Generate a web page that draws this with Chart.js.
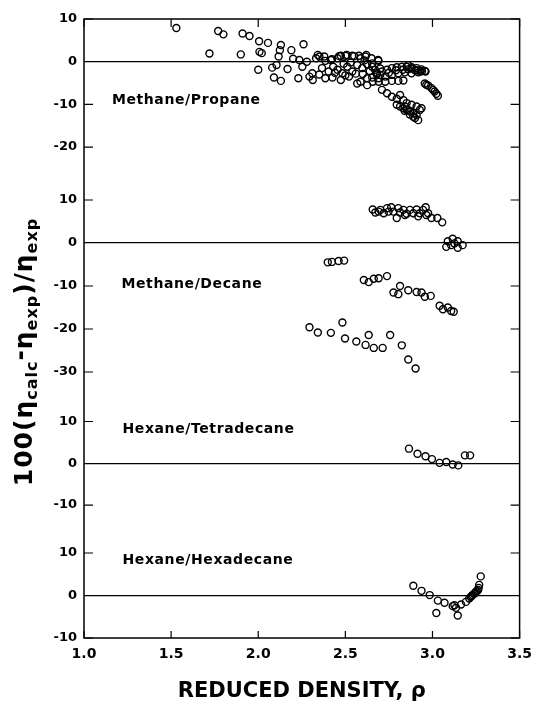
<!DOCTYPE html>
<html>
<head>
<meta charset="utf-8">
<script src="https://cdn.jsdelivr.net/npm/chart.js@4.4.1/dist/chart.umd.min.js"></script>
<style>
  body { margin: 0; background: #fff; }
  #wrap { width: 540px; height: 704px; }
</style>
</head>
<body>
<div id="wrap"><canvas id="chart" width="540" height="704"></canvas></div>
<script>
// reduced density ticks, shared by all four panels
const xTicks = [1.0, 1.5, 2.0, 2.5, 3.0, 3.5];

// y tick labels per panel
const propaneTicks = [10, 0, -10, -20];
const decaneTicks = [10, 0, -10, -20, -30];
const tetradecaneTicks = [10, 0, -10];
const hexadecaneTicks = [10, 0, -10];

const panelNames = ['Methane/Propane', 'Methane/Decane', 'Hexane/Tetradecane', 'Hexane/Hexadecane'];

// [reduced density, 100(calc - exp)/exp]
const propanePts = [
  [1.53, 7.9], [1.72, 1.9], [1.77, 7.2], [1.80, 6.4], [1.90, 1.7], [1.91, 6.6], [1.95, 6.0],
  [2.005, 4.8], [2.056, 4.4], [2.007, 2.3], [2.02, 2.0], [2.0, -1.9], [2.08, -1.4], [2.09, -3.7], [2.13, -4.5],
  [2.105, -0.8], [2.117, 1.2], [2.124, 2.7], [2.13, 3.9], [2.168, -1.7], [2.19, 2.7], [2.2, 0.7], [2.236, 0.4],
  [2.26, 4.1], [2.23, -3.9], [2.253, -1.2], [2.279, 0.0], [2.294, -3.5], [2.313, -4.3], [2.31, -2.7],
  [2.332, 0.8], [2.351, 1.2], [2.342, 1.6], [2.366, -1.5], [2.379, 1.2], [2.385, 0.2], [2.404, -2.3], [2.385, -3.9],
  [2.417, 0.4], [2.423, 0.6], [2.43, -1.2], [2.35, -3.0], [2.44, -2.6],
  [2.455, 0.8], [2.464, 1.3], [2.474, 1.4], [2.502, 1.4], [2.508, 1.6], [2.54, 1.4], [2.551, 1.3], [2.578, 1.4],
  [2.587, 0.8], [2.616, 1.2], [2.62, 1.6], [2.65, 0.8], [2.654, -0.4], [2.688, 0.4], [2.69, 0.2],
  [2.455, -1.9], [2.483, -2.7], [2.49, -0.5], [2.511, -1.2], [2.53, -0.2], [2.54, -2.3], [2.568, -0.8], [2.597, -1.5],
  [2.61, 0.3], [2.625, -0.6], [2.654, -1.2], [2.67, -1.9], [2.70, -1.6],
  [2.426, -3.7], [2.474, -4.3], [2.50, -3.2], [2.521, -3.5], [2.56, -2.8], [2.568, -5.1], [2.587, -4.7], [2.60, -2.9],
  [2.625, -3.9], [2.64, -2.2], [2.654, -3.7], [2.68, -3.0],
  [2.682, -2.7], [2.71, -2.3], [2.739, -1.9], [2.767, -1.5], [2.795, -1.3], [2.824, -1.2], [2.852, -1.2], [2.88, -1.3],
  [2.909, -1.5], [2.937, -1.8], [2.956, -2.2],
  [2.691, -3.9], [2.729, -3.5], [2.767, -3.1], [2.804, -2.7], [2.842, -2.5], [2.88, -2.7], [2.918, -2.5],
  [2.70, -3.1], [2.75, -2.6], [2.79, -2.0], [2.83, -1.9], [2.86, -1.8], [2.90, -2.0], [2.93, -2.3],
  [2.86, -0.8], [2.88, -1.6], [2.91, -2.0], [2.94, -2.2], [2.96, -2.3],
  [2.625, -5.5], [2.657, -4.7], [2.691, -4.7], [2.729, -4.7], [2.767, -4.5], [2.804, -4.5], [2.833, -4.4],
  [2.71, -6.6], [2.739, -7.4], [2.767, -8.2], [2.795, -8.7], [2.814, -7.8], [2.833, -9.0], [2.852, -9.7], [2.842, -10.5],
  [2.795, -10.1], [2.814, -10.5], [2.833, -10.9], [2.852, -11.3], [2.871, -11.7], [2.89, -12.1], [2.909, -12.5],
  [2.918, -13.7], [2.89, -12.9], [2.861, -11.3], [2.88, -10.1], [2.909, -10.5], [2.927, -11.3], [2.937, -10.9],
  [2.90, -13.2], [2.87, -12.4], [2.84, -11.5],
  [2.956, -5.1], [2.965, -5.4], [2.975, -5.6], [2.994, -6.2], [3.003, -6.6], [3.012, -7.0], [3.022, -7.5], [3.031, -8.0]
];

const decanePts = [
  [2.657, 7.8], [2.672, 7.1], [2.691, 7.3], [2.701, 7.7], [2.72, 6.9], [2.739, 8.1], [2.748, 7.3], [2.763, 8.3],
  [2.776, 7.3], [2.795, 5.8], [2.804, 8.1], [2.814, 7.1], [2.833, 7.7], [2.842, 6.5], [2.852, 6.8], [2.871, 7.7],
  [2.89, 6.9], [2.909, 7.8], [2.918, 6.2], [2.927, 6.9], [2.946, 7.7], [2.961, 8.3], [2.965, 6.5], [2.975, 6.9],
  [2.994, 5.8], [3.028, 5.8], [3.056, 4.8],
  [3.079, -0.9], [3.088, 0.4], [3.107, -0.5], [3.116, 1.0], [3.126, -0.1], [3.145, 0.4], [3.145, -1.1], [3.173, -0.5],
  [2.399, -4.5], [2.423, -4.4], [2.461, -4.2], [2.493, -4.1],
  [2.606, -8.6], [2.634, -9.1], [2.663, -8.3], [2.691, -8.2], [2.739, -7.7], [2.776, -11.5], [2.804, -11.9],
  [2.814, -10.0], [2.861, -11.0], [2.909, -11.4], [2.937, -11.5], [2.956, -12.5], [2.99, -12.3],
  [3.041, -14.6], [3.06, -15.4], [3.088, -15.0], [3.107, -15.8], [3.122, -16.0],
  [2.294, -19.6], [2.342, -20.8], [2.417, -20.9], [2.483, -18.5], [2.498, -22.2], [2.563, -22.9], [2.616, -23.7],
  [2.634, -21.4], [2.663, -24.4], [2.714, -24.4], [2.757, -21.4], [2.824, -23.8], [2.861, -27.1], [2.903, -29.2]
];

const tetradecanePts = [
  [2.865, 3.5], [2.914, 2.3], [2.96, 1.7], [2.997, 1.0], [3.041, 0.1], [3.079, 0.3], [3.116, -0.3], [3.148, -0.5],
  [3.186, 1.9], [3.216, 1.9]
];

const hexadecanePts = [
  [2.89, 2.3], [2.937, 1.1], [2.984, 0.1], [3.022, -4.1], [3.031, -1.2], [3.069, -1.7], [3.116, -2.5], [3.126, -2.3],
  [3.135, -2.9], [3.145, -4.7], [3.164, -2.1], [3.192, -1.5], [3.211, -0.7], [3.22, -0.3], [3.225, -0.1], [3.23, 0.1],
  [3.239, 0.4], [3.245, 0.6], [3.249, 0.9], [3.255, 1.0], [3.262, 1.3], [3.265, 1.8], [3.268, 2.5], [3.277, 4.5]
];

const panelIds = ['yProp', 'yDec', 'yTet', 'yHex'];
// where each panel name sits, in (density, deviation) of its own panel
const nameAt = [[1.16, -9.0], [1.215, -9.7], [1.221, 8.0], [1.221, 8.3]];

const font = (size) => ({ family: 'DejaVu Sans', weight: 'bold', size });

function panelAxis(ticks, min, max, height, order) {
  return {
    type: 'linear',
    position: 'left',
    stack: 'panels',
    stackWeight: height,
    weight: order,
    min,
    max,
    afterBuildTicks: s => { s.ticks = ticks.map(v => ({ value: v })); },
    afterFit: s => { s.width = 84; },
    border: { display: false },
    grid: {
      drawTicks: false,
      lineWidth: 1.2,
      color: c => (c.tick && c.tick.value === 0 ? '#000' : 'rgba(0,0,0,0)')
    },
    ticks: { autoSkip: false, padding: 7, color: '#000', font: font(13), callback: v => String(v) }
  };
}

const toPts = arr => arr.map(([x, y]) => ({ x, y }));

const dot = {
  pointRadius: 3.5,
  pointHoverRadius: 3.5,
  pointBorderWidth: 1.4,
  borderColor: '#000',
  backgroundColor: 'rgba(0,0,0,0)'
};

const framePlugin = {
  id: 'frame',
  afterDatasetsDraw(chart) {
    const { ctx, chartArea: a, scales } = chart;
    ctx.save();
    ctx.strokeStyle = '#000';
    ctx.lineWidth = 1.5;
    ctx.strokeRect(a.left, a.top, a.right - a.left, a.bottom - a.top);

    // inward tick marks
    ctx.lineWidth = 1.2;
    ctx.beginPath();
    panelIds.forEach(id => {
      const s = scales[id];
      s.ticks.forEach(t => {
        if (t.value === 0) return;
        const y = s.getPixelForValue(t.value);
        ctx.moveTo(a.left, y); ctx.lineTo(a.left + 9, y);
        ctx.moveTo(a.right - 9, y); ctx.lineTo(a.right, y);
      });
    });
    scales.x.ticks.forEach(t => {
      const x = scales.x.getPixelForValue(t.value);
      ctx.moveTo(x, a.bottom); ctx.lineTo(x, a.bottom - 7);
      ctx.moveTo(x, a.top); ctx.lineTo(x, a.top + 8);
    });
    ctx.stroke();

    // panel names
    ctx.fillStyle = '#000';
    ctx.font = 'bold 14px "DejaVu Sans"';
    ctx.letterSpacing = '0.6px';
    ctx.textBaseline = 'middle';
    ctx.textAlign = 'left';
    panelIds.forEach((id, i) => {
      ctx.fillText(panelNames[i], scales.x.getPixelForValue(nameAt[i][0]), scales[id].getPixelForValue(nameAt[i][1]));
    });
    ctx.restore();
  },
  afterDraw(chart) {
    // y axis title with subscripts
    const ctx = chart.ctx;
    const big = 'bold 25px "DejaVu Sans"';
    const small = 'bold 16px "DejaVu Sans"';
    const parts = [
      ['100(', big, 0], ['η', big, 0], ['calc', small, 5], ['-', big, -4], ['η', big, 0], ['exp', small, 5],
      [')', big, 0], ['/', big, 0], ['η', big, 0], ['exp', small, 5]
    ];
    ctx.save();
    ctx.fillStyle = '#000';
    ctx.letterSpacing = '1px';
    ctx.textBaseline = 'alphabetic';
    let total = 0;
    parts.forEach(p => { ctx.font = p[1]; total += ctx.measureText(p[0]).width; });
    ctx.translate(32, 352);
    ctx.rotate(-Math.PI / 2);
    let x = -total / 2;
    parts.forEach(p => {
      ctx.font = p[1];
      ctx.fillText(p[0], x, p[2]);
      x += ctx.measureText(p[0]).width;
    });
    ctx.restore();
  }
};

new Chart(document.getElementById('chart'), {
  type: 'scatter',
  data: {
    datasets: [
      { label: panelNames[0], data: toPts(propanePts), yAxisID: 'yProp', ...dot },
      { label: panelNames[1], data: toPts(decanePts), yAxisID: 'yDec', ...dot },
      { label: panelNames[2], data: toPts(tetradecanePts), yAxisID: 'yTet', ...dot },
      { label: panelNames[3], data: toPts(hexadecanePts), yAxisID: 'yHex', ...dot }
    ]
  },
  options: {
    responsive: false,
    animation: false,
    devicePixelRatio: 1,
    layout: { padding: { top: 19, right: 15, left: 0, bottom: 0 } },
    plugins: { legend: { display: false }, tooltip: { enabled: false } },
    scales: {
      x: {
        type: 'linear',
        min: 1,
        max: 3.5,
        afterBuildTicks: s => { s.ticks = xTicks.map(v => ({ value: v })); },
        afterFit: s => { s.height = 66; },
        border: { display: false },
        grid: { display: false, drawTicks: false },
        ticks: { autoSkip: false, maxRotation: 0, padding: 8, color: '#000', font: font(14), callback: v => v.toFixed(1) },
        title: { display: true, text: 'REDUCED DENSITY, ρ', color: '#000', font: font(21), padding: { top: 0, bottom: 0 } }
      },
      yProp: panelAxis(propaneTicks, -26.2, 10, 154.5, 4),
      yDec: panelAxis(decaneTicks, -35.93, 16.16, 224, 3),
      yTet: panelAxis(tetradecaneTicks, -16.2, 15.74, 133.5, 2),
      yHex: panelAxis(hexadecaneTicks, -10, 15.18, 107, 1)
    }
  },
  plugins: [framePlugin]
});
</script>
</body>
</html>
